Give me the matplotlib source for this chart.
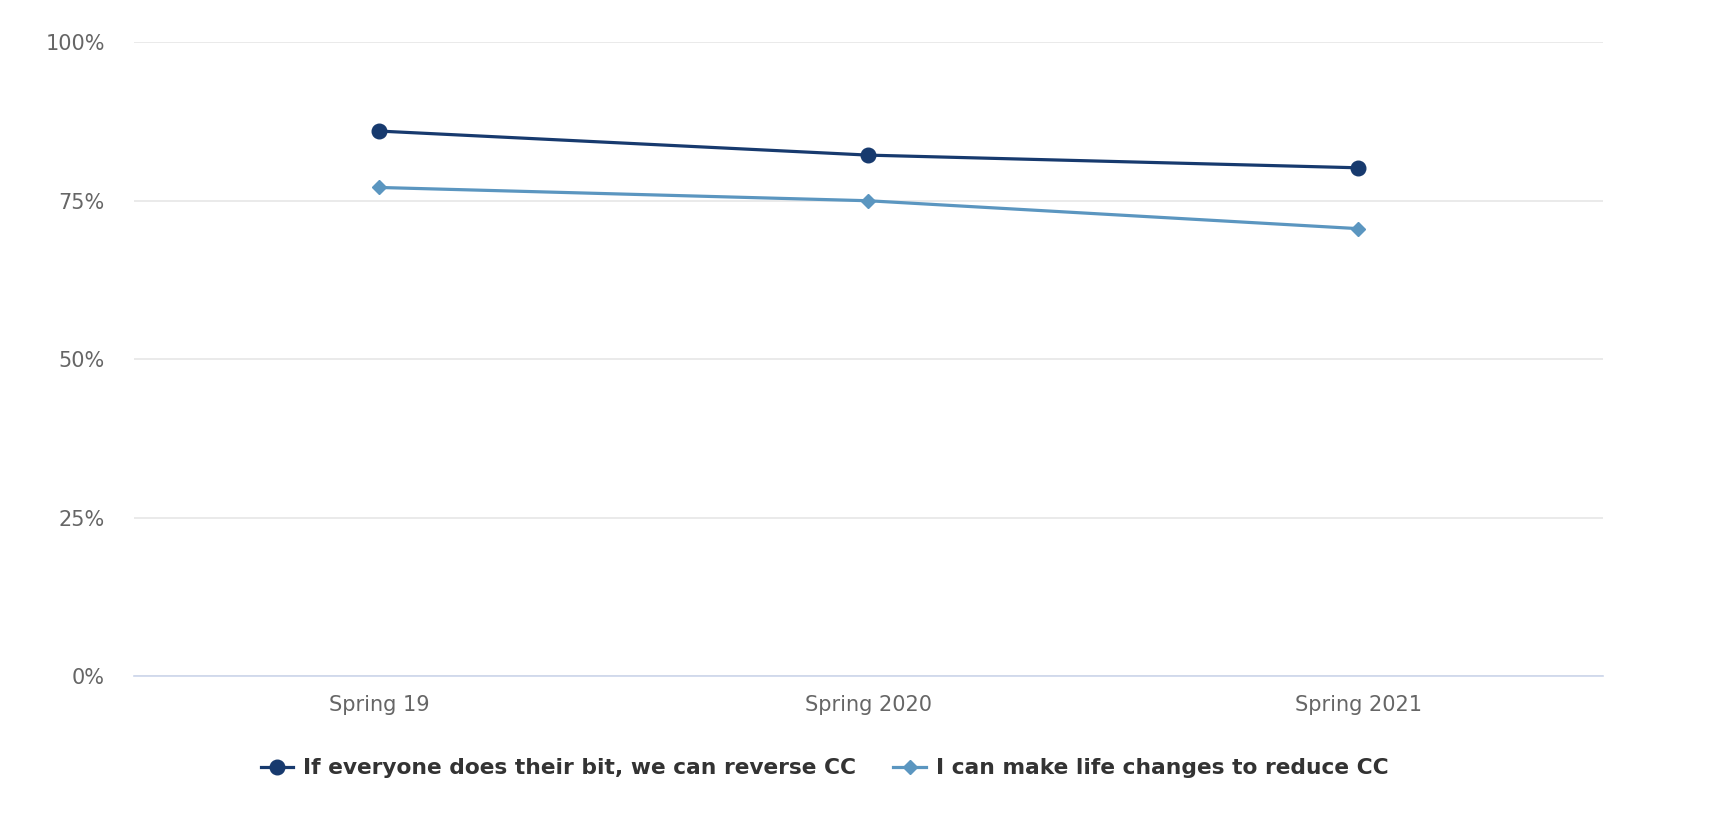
import matplotlib.pyplot as plt
from matplotlib.ticker import FuncFormatter

# dados do grafico
periodos = ['Spring 19', 'Spring 2020', 'Spring 2021']
reverter_cc = [86.0, 82.2, 80.2]
mudar_vida = [77.1, 75.0, 70.6]
nomes_series = ['If everyone does their bit, we can reverse CC',
                'I can make life changes to reduce CC']


def gerar_grafico():
    fig = plt.figure(figsize=(17.18, 8.14), dpi=100)
    ax = fig.add_axes([0.078, 0.1695, 0.855, 0.7785])

    x = range(len(periodos))
    ax.plot(x, reverter_cc, color='#173a6e', linewidth=2.3, marker='o',
            markersize=10.5, label=nomes_series[0], zorder=3)
    ax.plot(x, mudar_vida, color='#5b96c0', linewidth=2.3, marker='D',
            markersize=7.5, label=nomes_series[1], zorder=3)

    ax.set_xlim(-0.5, len(periodos) - 0.5)
    ax.set_ylim(0, 100)
    ax.set_yticks([0, 25, 50, 75, 100])
    ax.yaxis.set_major_formatter(FuncFormatter(lambda v, p: f'{v:.0f}%'))
    ax.set_xticks(list(x))
    ax.set_xticklabels(periodos)

    ax.grid(axis='y', color='#e6e6e6', linewidth=1.2)
    ax.set_axisbelow(True)
    for lado in ['top', 'right', 'left']:
        ax.spines[lado].set_visible(False)
    ax.spines['bottom'].set_color('#ccd6eb')
    ax.spines['bottom'].set_linewidth(1.2)

    ax.tick_params(axis='both', length=0, labelsize=15, labelcolor='#666666')
    ax.tick_params(axis='x', pad=14)
    ax.tick_params(axis='y', pad=21)

    # legenda um pouco deslocada para a esquerda, como no original
    fig.legend(loc='center', bbox_to_anchor=(0.48, 0.056), ncol=2, frameon=False,
               prop={'weight': 'bold', 'size': 15.7}, labelcolor='#333333',
               handlelength=1.5, columnspacing=1.7, handletextpad=0.45)

    fig.savefig('out.png', dpi=100)


if __name__ == '__main__':
    gerar_grafico()
